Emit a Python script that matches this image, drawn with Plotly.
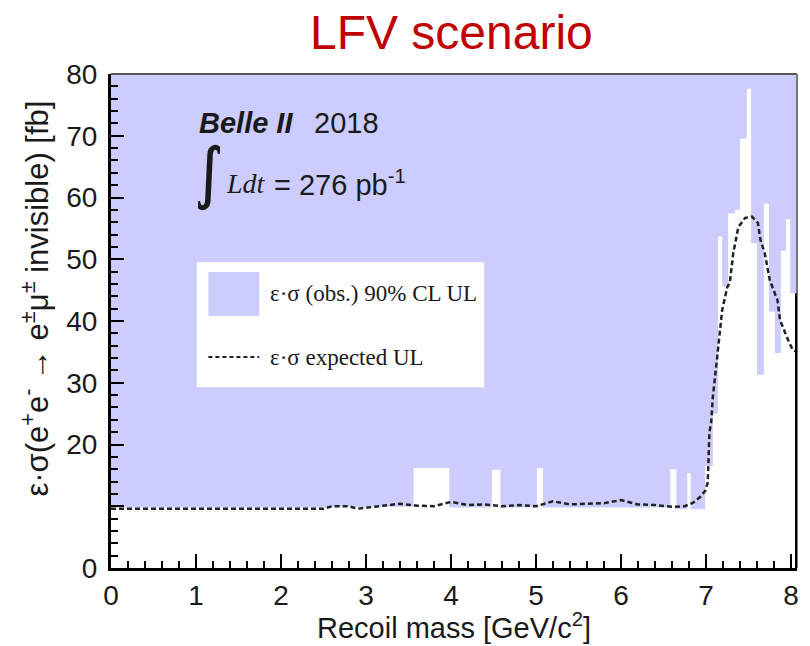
import plotly.graph_objects as go

# Observed 90% CL upper limit on eps*sigma, as a histogram: bin edges [GeV/c^2] and values [fb]
obs_edges = [0.00, 2.60, 3.56, 3.98, 4.48, 4.58, 5.01, 5.08, 6.58, 6.65, 6.78, 6.82,
             6.99, 7.08, 7.14, 7.19, 7.26, 7.34, 7.40, 7.48, 7.53, 7.60, 7.68, 7.74,
             7.81, 7.88, 7.94, 7.99, 8.07]
obs_ul = [9.8, 9.9, 16.2, 9.8, 15.9, 9.8, 16.2, 9.8, 16.0, 9.5, 15.4, 9.5,
          16.5, 25.0, 53.7, 45.6, 57.4, 58.0, 69.5, 77.6, 52.6, 31.3, 59.0, 41.5,
          34.8, 51.4, 56.5, 44.5]

# Expected upper limit
exp_mass = [0.00, 0.50, 1.00, 1.50, 2.00, 2.50, 2.60, 2.80, 2.90, 3.10, 3.40, 3.60,
            3.80, 4.00, 4.20, 4.40, 4.60, 4.80, 5.00, 5.20, 5.40, 5.60, 5.80, 6.00,
            6.20, 6.40, 6.60, 6.75, 6.85, 6.93, 6.99, 7.02, 7.04, 7.06, 7.08, 7.13,
            7.19, 7.25, 7.28, 7.32, 7.38, 7.46, 7.54, 7.61, 7.64, 7.69, 7.75, 7.84,
            7.87, 7.95, 8.02, 8.07]
exp_ul = [9.6, 9.6, 9.6, 9.6, 9.6, 9.6, 10.0, 10.0, 9.6, 9.9, 10.4, 10.1,
          10.0, 10.7, 10.2, 10.3, 10.0, 10.2, 10.0, 10.8, 10.3, 10.4, 10.5, 11.0,
          10.3, 10.2, 9.9, 10.0, 10.6, 11.5, 12.5, 13.8, 22.0, 23.5, 27.7, 34.0,
          41.8, 45.5, 46.2, 51.0, 55.2, 56.7, 56.9, 55.9, 53.1, 51.0, 46.6, 43.4,
          40.2, 37.4, 35.3, 35.0]

x_tickvals = [0, 1, 2, 3, 4, 5, 6, 7, 8]
y_tickvals = [0, 10, 20, 30, 40, 50, 60, 70, 80]
y_ticktext = ["0", "", "20", "30", "40", "50", "60", "70", "80"]

LAVENDER = "#ccccff"
TXT = "#1a1a1a"
SANS = "Liberation Sans, Arial, sans-serif"
SERIF = "Liberation Serif, Times New Roman, serif"

fig = go.Figure()

# White area below the observed limit (region above stays lavender = excluded)
fig.add_trace(go.Scatter(
    x=obs_edges, y=obs_ul + [obs_ul[-1]],
    mode="lines", line=dict(width=0, shape="hv"),
    fill="tozeroy", fillcolor="white", hoverinfo="skip", showlegend=False))

# Expected limit, dashed
fig.add_trace(go.Scatter(
    x=exp_mass, y=exp_ul, mode="lines",
    line=dict(color="#222222", width=2.5, dash="5px,3px"),
    showlegend=False))

xmax = obs_edges[-1]

fig.update_layout(
    width=810, height=646,
    margin=dict(l=111, r=13, t=74, b=78),
    paper_bgcolor="white", plot_bgcolor=LAVENDER,
    showlegend=False,
    xaxis=dict(range=[0, xmax], tickvals=x_tickvals, ticks="inside", ticklen=14,
               tickwidth=2, tickcolor="black", showgrid=False, zeroline=False,
               showline=True, linecolor="black", linewidth=3, ticklabelstandoff=0,
               tickfont=dict(family=SANS, size=28, color=TXT),
               minor=dict(dtick=0.2, tick0=0, ticks="inside", ticklen=7,
                          tickwidth=1.5, tickcolor="black", showgrid=False)),
    yaxis=dict(range=[0, 80], tickvals=y_tickvals, ticktext=y_ticktext,
               ticks="inside", ticklen=13, tickwidth=2, tickcolor="black",
               showgrid=False, zeroline=False, showline=True, linecolor="black",
               linewidth=3, ticklabelstandoff=5,
               tickfont=dict(family=SANS, size=28, color=TXT),
               minor=dict(dtick=2, tick0=0, ticks="inside", ticklen=7,
                          tickwidth=1.5, tickcolor="black", showgrid=False)),
)

# Frame: grey top and right borders, black edge of the last bin
fig.add_shape(type="line", xref="paper", yref="paper", x0=0, x1=1, y0=1, y1=1,
              line=dict(color="#555555", width=2))
fig.add_shape(type="line", xref="paper", yref="paper", x0=1, x1=1, y0=0, y1=1,
              line=dict(color="#777777", width=2))
fig.add_shape(type="line", xref="x", yref="y", x0=xmax, x1=xmax, y0=0, y1=obs_ul[-1],
              line=dict(color="black", width=4))

# Legend box
fig.add_shape(type="rect", xref="paper", yref="paper", x0=0.125, x1=0.544,
              y0=0.366, y1=0.619, fillcolor="white", line=dict(width=0), layer="above")
fig.add_shape(type="rect", xref="paper", yref="paper", x0=0.142, x1=0.216,
              y0=0.510, y1=0.599, fillcolor=LAVENDER, line=dict(width=0), layer="above")
fig.add_shape(type="line", xref="paper", yref="paper", x0=0.142, x1=0.216,
              y0=0.427, y1=0.427, line=dict(color="#222222", width=2, dash="4px,3px"),
              layer="above")
fig.add_annotation(xref="paper", yref="paper", x=0.229, y=0.556, xanchor="left",
                   yanchor="middle", showarrow=False,
                   text="ε·σ (obs.) 90% CL UL",
                   font=dict(family=SERIF, size=23, color=TXT))
fig.add_annotation(xref="paper", yref="paper", x=0.229, y=0.427, xanchor="left",
                   yanchor="middle", showarrow=False,
                   text="ε·σ expected UL",
                   font=dict(family=SERIF, size=23, color=TXT))

# Experiment label
fig.add_annotation(xref="paper", yref="paper", x=0.125, y=0.901, xanchor="left",
                   yanchor="middle", showarrow=False, text="<b><i>Belle II</i></b>",
                   font=dict(family=SANS, size=29, color=TXT))
fig.add_annotation(xref="paper", yref="paper", x=0.293, y=0.901, xanchor="left",
                   yanchor="middle", showarrow=False, text="2018",
                   font=dict(family=SANS, size=29, color=TXT))
fig.add_annotation(xref="paper", yref="paper", x=0.125, y=0.800, xanchor="left",
                   yanchor="middle", showarrow=False, text="∫", width=22,
                   borderpad=0, align="center",
                   font=dict(family="DejaVu Sans, sans-serif", size=68, color=TXT))
fig.add_annotation(xref="paper", yref="paper", x=0.164, y=0.779, xanchor="left",
                   yanchor="middle", showarrow=False, text="<i>Ldt</i>",
                   font=dict(family=SERIF, size=28, color=TXT))
fig.add_annotation(xref="paper", yref="paper", x=0.234, y=0.779, xanchor="left",
                   yanchor="middle", showarrow=False, text="= 276 pb<sup>-1</sup>",
                   font=dict(family=SANS, size=29, color=TXT))

# Axis titles
fig.add_annotation(xref="paper", yref="paper", x=0.5, y=-0.117, xanchor="center",
                   yanchor="middle", showarrow=False,
                   text="Recoil mass [GeV/c<sup>2</sup>]",
                   font=dict(family=SANS, size=29, color=TXT))
fig.add_annotation(xref="paper", yref="paper", x=-0.111, y=0.545, xanchor="center",
                   yanchor="middle", showarrow=False, textangle=-90,
                   text="ε·σ(e<sup>+</sup>e<sup>-</sup> → e<sup>±</sup>μ<sup>±</sup> invisible) [fb]",
                   font=dict(family=SANS, size=31, color=TXT))

# Title
fig.add_annotation(xref="paper", yref="paper", x=0.496, y=1.083, xanchor="center",
                   yanchor="middle", showarrow=False, text="LFV scenario",
                   font=dict(family=SANS, size=48, color="#c00000"))

fig.write_html("out.html")
